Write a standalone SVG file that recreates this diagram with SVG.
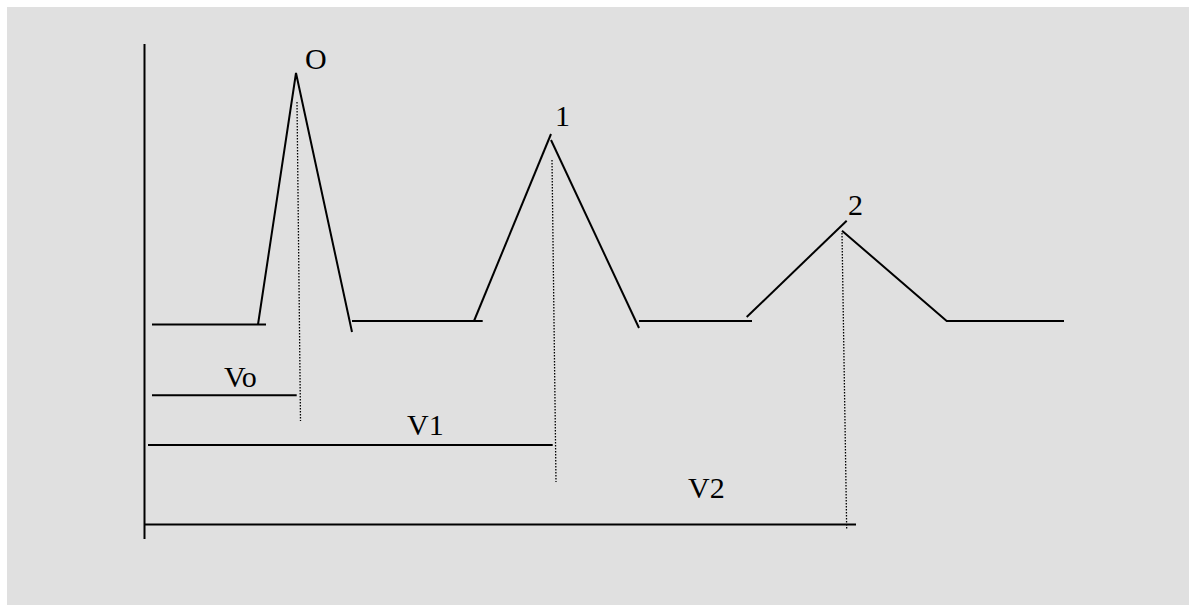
<svg xmlns="http://www.w3.org/2000/svg" width="1189" height="605" viewBox="0 0 1189 605">
<style>
.ln{stroke:#000;stroke-width:2;fill:none}
.dt{stroke:#000;stroke-width:1.3;stroke-dasharray:1.5 1.5;fill:none}
.lb{font-family:"Liberation Serif",serif;font-size:30px;fill:#000}
</style>
<rect x="7" y="7" width="1182" height="598" fill="#e0e0e0"/>
<g id="connectors">
<line class="ln" x1="144.5" y1="44" x2="144.5" y2="539"/>
<polyline class="ln" points="152,324.5 266,324.5"/>
<polyline class="ln" points="258,324.5 296,73 352,332"/>
<polyline class="ln" points="352,321 482.7,321"/>
<polyline class="ln" points="474,321 551,134"/>
<polyline class="ln" points="551,140 639,328"/>
<polyline class="ln" points="639,321 752,321"/>
<polyline class="ln" points="746.7,317 846.7,220.7"/>
<polyline class="ln" points="842,230.7 946.7,321 1064,321"/>
<line class="dt" x1="297" y1="102" x2="300.5" y2="421"/>
<line class="dt" x1="552" y1="160" x2="556" y2="482"/>
<line class="dt" x1="842" y1="233" x2="846.7" y2="530"/>
<line class="ln" x1="152" y1="395.3" x2="296.7" y2="395.3"/>
<line class="ln" x1="148" y1="445" x2="552.7" y2="445"/>
<line class="ln" x1="145" y1="524.5" x2="856" y2="524.5"/>
</g>
<g id="label-O"><text class="lb" x="305" y="69">O</text></g>
<g id="label-1"><text class="lb" x="555" y="126">1</text></g>
<g id="label-2"><text class="lb" x="848" y="215">2</text></g>
<g id="label-Vo"><text class="lb" x="224" y="387">Vo</text></g>
<g id="label-V1"><text class="lb" x="407" y="435">V1</text></g>
<g id="label-V2"><text class="lb" x="688" y="498">V2</text></g>
</svg>
